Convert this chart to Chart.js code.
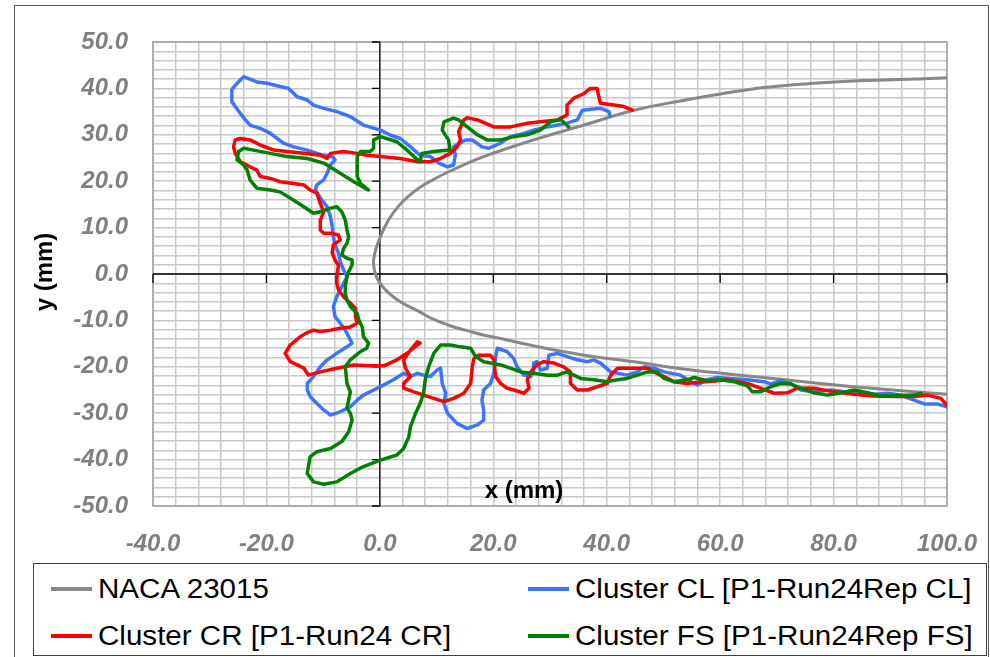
<!DOCTYPE html>
<html>
<head>
<meta charset="utf-8">
<script src="https://cdn.jsdelivr.net/npm/chart.js@4.4.1/dist/chart.umd.min.js"></script>
<style>
	body { margin: 0; background: #fff; }
	#wrap { position: relative; width: 990px; height: 657px; overflow: hidden; font-family: "Liberation Sans", Arial, sans-serif; }
	#frame { position: absolute; left: 14px; top: 5px; width: 973px; height: 700px; border: 1.5px solid #5a5a5a; }
	#myChart { position: absolute; left: 0; top: 0; }
	#legend { position: absolute; left: 33px; top: 563px; width: 954px; height: 93px; border: 1.5px solid #404040; box-sizing: border-box; background: #fff; }
	.item { position: absolute; height: 40px; white-space: nowrap; }
	.item .swatch { position: absolute; left: 0; top: 18px; width: 41px; height: 4px; }
	.item .label { position: absolute; left: 47px; top: 4px; font-size: 27px; line-height: 32px; color: #000; transform: scaleX(1.095); transform-origin: left center; }
</style>
</head>
<body>
<div id="wrap">
	<div id="frame"></div>
	<canvas id="myChart" width="990" height="657"></canvas>
	<div id="legend"></div>
</div>
<script>
// series names and colours
var seriesNames = ["NACA 23015", "Cluster CL [P1-Run24Rep CL]", "Cluster CR [P1-Run24 CR]", "Cluster FS [P1-Run24Rep FS]"];
var seriesColors = ["#888888", "#3d74ff", "#ff0000", "#008000"];

// tick labels
var xTickValues = [-40, -20, 0, 20, 40, 60, 80, 100];
var yTickValues = [-50, -40, -30, -20, -10, 0, 10, 20, 30, 40, 50];

// NACA 23015 profile (upper trailing side -> leading edge -> lower side)
var nacaX = [100.1, 94.2, 85.4, 76.5, 67.7, 60.1, 53.0, 44.8, 36.0, 27.1, 18.3, 12.4, 9.5, 7.1, 4.8, 3.0, 1.5, 0.3, -0.6, -1.1, -0.9, -0.1, 1.4, 3.6, 6.6, 9.5, 12.5, 15.4, 17.7, 21.3, 28.3, 36.0, 44.8, 52.4, 61.8, 70.7, 79.5, 88.3, 100.1];
var nacaY = [42.3, 42.0, 41.7, 41.1, 40.2, 38.8, 37.3, 35.3, 32.1, 28.9, 25.3, 22.2, 20.4, 18.7, 16.5, 14.2, 11.6, 8.6, 5.8, 3.0, 0.5, -1.8, -3.9, -6.0, -7.9, -9.8, -11.2, -12.2, -13.0, -13.9, -15.8, -17.5, -18.9, -20.3, -21.6, -22.7, -23.8, -24.8, -25.9];

// Cluster CL
var clX = [40.6, 40.4, 38.9, 35.7, 34.8, 33.0, 29.5, 27.1, 25.4, 23.0, 21.3, 19.2, 18.0, 16.3, 15.1, 13.0, 13.3, 13.0, 11.9, 10.4, 8.9, 7.1, 5.4, 3.6, 1.9, 0.1, -2.9, -5.2, -7.6, -9.9, -11.7, -12.8, -14.6, -16.1, -17.6, -19.9, -21.7, -23.4, -24.0, -24.6, -25.5, -26.1, -26.1, -25.5, -24.6, -23.7, -22.9, -21.1, -19.3, -18.1, -17.0, -15.2, -12.8, -11.1, -9.9, -8.4, -7.9, -8.7, -9.3, -9.9, -11.1, -11.4, -10.2, -9.3, -8.7, -8.4, -8.2, -7.9, -7.3, -7.0, -6.4, -5.8, -6.4, -7.0, -7.6, -8.2, -7.9, -7.0, -6.1, -5.5, -4.9, -5.8, -7.6, -9.3, -10.5, -11.7, -12.8, -12.8, -12.3, -11.1, -9.9, -8.7, -7.0, -5.2, -4.0, -2.9, -1.1, 0.7, 2.4, 4.2, 5.4, 6.6, 7.7, 8.9, 10.1, 10.7, 11.0, 11.6, 11.3, 11.9, 13.6, 15.4, 17.2, 18.3, 18.3, 18.0, 18.3, 19.5, 20.1, 20.4, 20.7, 22.4, 23.6, 24.2, 25.4, 26.6, 27.1, 27.1, 27.7, 28.3, 29.5, 29.8, 31.3, 33.0, 34.8, 36.6, 37.7, 38.9, 40.7, 43.6, 45.4, 46.6, 48.3, 50.1, 53.0, 54.8, 56.0, 57.7, 59.5, 61.8, 64.8, 67.7, 68.9, 70.7, 72.4, 74.2, 76.5, 79.5, 82.4, 85.4, 89.5, 91.8, 94.2, 96.0, 98.3, 100.1];
var clY = [34.1, 35.0, 35.7, 35.3, 33.2, 32.5, 31.7, 31.0, 30.3, 29.6, 28.2, 27.1, 27.4, 28.9, 28.9, 27.4, 25.6, 23.5, 23.1, 23.9, 25.3, 25.6, 27.4, 29.2, 29.9, 31.0, 32.1, 33.9, 35.0, 35.7, 36.4, 37.5, 38.2, 40.0, 40.4, 41.1, 41.4, 42.2, 42.5, 41.8, 40.7, 39.7, 37.1, 36.1, 34.6, 33.2, 32.1, 31.4, 30.3, 29.2, 28.2, 27.4, 26.7, 26.0, 25.6, 25.3, 24.6, 23.5, 21.7, 20.3, 19.2, 18.1, 15.9, 14.5, 12.3, 10.2, 8.0, 6.3, 4.5, 2.7, 0.9, -0.6, -2.0, -3.4, -4.9, -7.0, -9.2, -10.6, -12.1, -13.5, -14.9, -15.7, -17.1, -18.5, -20.0, -22.1, -23.6, -25.0, -26.4, -27.9, -29.3, -30.4, -29.7, -28.6, -27.2, -26.1, -25.0, -23.9, -22.8, -21.4, -22.1, -21.4, -21.8, -22.1, -20.7, -20.3, -23.6, -25.7, -27.9, -30.0, -32.2, -33.3, -32.5, -31.5, -29.3, -27.2, -25.0, -23.6, -21.4, -18.0, -16.0, -16.7, -18.2, -20.0, -21.8, -22.1, -21.1, -19.2, -18.9, -20.7, -20.3, -17.5, -17.1, -17.8, -18.5, -18.9, -18.5, -19.2, -21.1, -21.8, -21.1, -20.0, -20.3, -21.1, -21.8, -23.2, -23.9, -22.8, -22.3, -22.5, -22.8, -23.2, -23.7, -23.0, -23.6, -25.0, -25.4, -25.0, -25.5, -26.1, -25.7, -26.1, -27.2, -28.0, -28.0, -28.7];

// Cluster CR
var crX = [44.5, 43.0, 41.3, 38.9, 38.6, 38.3, 37.1, 36.0, 34.2, 33.0, 33.0, 31.3, 28.3, 26.0, 23.0, 20.1, 17.2, 15.4, 14.8, 13.9, 14.2, 13.6, 12.4, 10.7, 8.9, 6.6, 3.6, 0.1, -2.3, -4.0, -6.4, -8.7, -9.3, -10.5, -13.4, -16.4, -18.7, -21.1, -22.9, -24.6, -25.5, -25.8, -25.5, -24.6, -22.9, -21.7, -21.1, -19.3, -17.6, -15.2, -13.4, -12.3, -11.1, -10.5, -9.9, -10.5, -10.5, -9.9, -8.7, -7.3, -7.0, -8.2, -8.4, -7.9, -7.3, -7.6, -7.6, -7.3, -6.4, -5.2, -4.3, -4.3, -4.0, -5.2, -7.0, -8.7, -10.5, -11.7, -13.1, -14.0, -15.8, -16.7, -15.8, -13.4, -12.6, -10.5, -7.6, -4.6, -1.7, 0.7, 3.0, 4.8, 6.6, 7.1, 6.6, 5.4, 4.2, 4.5, 5.4, 4.2, 4.2, 6.0, 7.7, 9.5, 11.3, 13.0, 14.8, 16.0, 16.3, 16.6, 17.4, 19.5, 20.1, 20.4, 21.3, 22.4, 23.6, 25.4, 26.3, 26.0, 26.6, 27.7, 28.9, 30.7, 32.4, 33.6, 33.6, 34.8, 36.6, 38.3, 40.1, 40.7, 41.9, 44.8, 47.2, 48.3, 50.1, 51.8, 54.2, 56.6, 57.7, 61.3, 64.8, 67.1, 69.5, 71.9, 73.6, 76.5, 80.1, 83.6, 87.1, 90.7, 94.2, 96.6, 98.9, 100.1];
var crY = [35.3, 36.1, 36.4, 36.8, 38.2, 40.0, 40.0, 38.9, 37.9, 36.4, 34.3, 33.2, 32.8, 32.5, 31.7, 31.7, 33.2, 33.7, 33.2, 30.7, 28.9, 27.4, 26.0, 24.9, 24.2, 24.2, 24.9, 25.3, 25.6, 26.0, 26.4, 26.0, 24.9, 25.6, 26.0, 26.4, 26.7, 27.8, 28.9, 29.2, 28.9, 27.4, 26.0, 24.2, 23.1, 22.4, 21.0, 20.6, 19.9, 19.5, 19.2, 18.1, 17.4, 15.2, 13.4, 11.6, 9.5, 8.8, 8.8, 8.4, 7.3, 6.3, 4.5, 3.0, 1.9, -0.6, -2.0, -3.4, -4.9, -6.3, -7.4, -9.2, -10.6, -11.4, -11.7, -12.1, -12.4, -12.1, -12.8, -13.5, -15.3, -17.1, -18.9, -20.3, -21.8, -21.1, -20.3, -19.6, -19.8, -19.8, -18.5, -17.1, -15.3, -14.9, -14.6, -16.4, -18.5, -20.3, -22.1, -23.6, -24.6, -25.4, -26.1, -26.8, -27.5, -26.8, -25.7, -23.6, -20.0, -18.2, -17.5, -17.5, -18.5, -22.1, -23.6, -24.6, -25.0, -25.7, -24.6, -22.8, -21.1, -19.6, -18.9, -19.2, -20.0, -21.1, -23.6, -25.0, -25.0, -24.3, -23.6, -21.8, -20.3, -20.3, -20.3, -21.1, -22.1, -23.2, -23.6, -23.2, -23.2, -22.8, -23.6, -24.6, -25.7, -25.6, -24.6, -24.6, -25.4, -25.9, -26.3, -26.4, -26.4, -26.1, -26.8, -28.4];

// Cluster FS
var fsX = [33.3, 31.9, 30.1, 28.3, 26.0, 23.6, 21.3, 18.9, 17.2, 15.4, 13.9, 13.0, 11.3, 11.0, 12.1, 12.4, 9.5, 7.4, 7.1, 6.0, 4.8, 3.0, 0.1, -1.1, -1.1, -1.7, -3.4, -4.0, -4.0, -3.4, -2.0, -2.6, -4.6, -7.0, -9.9, -12.8, -16.4, -19.3, -22.3, -24.0, -24.9, -25.2, -24.0, -23.4, -22.9, -21.7, -19.3, -17.6, -15.2, -13.4, -11.7, -10.5, -8.7, -7.6, -6.7, -6.1, -5.8, -5.5, -5.8, -6.4, -6.7, -5.8, -4.9, -4.9, -5.5, -5.8, -6.1, -6.1, -5.8, -5.2, -4.0, -3.7, -3.1, -2.9, -2.0, -2.3, -3.4, -5.2, -6.1, -5.8, -5.2, -5.5, -5.8, -5.2, -4.9, -5.5, -6.7, -8.7, -11.1, -12.3, -12.6, -12.8, -11.7, -9.9, -7.6, -5.2, -2.9, 0.1, 3.0, 4.2, 5.1, 5.4, 6.3, 7.1, 7.7, 8.0, 8.6, 9.5, 10.7, 12.4, 14.2, 16.0, 16.9, 18.3, 19.5, 21.3, 23.0, 24.8, 27.1, 29.5, 31.3, 33.0, 34.2, 35.4, 37.7, 40.1, 41.9, 43.6, 45.4, 47.2, 48.9, 50.1, 51.8, 54.2, 55.4, 57.7, 60.1, 62.4, 64.8, 65.7, 67.1, 68.9, 70.7, 72.4, 74.2, 76.5, 78.9, 81.3, 83.6, 86.0, 88.3, 91.3, 94.2, 95.4];
var fsY = [31.7, 33.3, 32.8, 31.0, 30.0, 29.6, 28.9, 28.9, 30.0, 31.7, 33.2, 33.6, 32.8, 31.0, 28.9, 26.7, 26.4, 26.0, 24.2, 25.3, 26.7, 28.5, 29.6, 28.9, 27.1, 26.4, 26.4, 25.3, 21.0, 19.5, 18.1, 18.5, 19.9, 21.7, 23.9, 24.9, 25.3, 26.0, 26.7, 27.1, 26.4, 24.6, 23.5, 22.4, 20.3, 18.5, 18.1, 17.7, 15.9, 14.5, 13.1, 13.4, 14.2, 14.5, 13.4, 11.6, 9.5, 8.0, 6.6, 5.5, 4.1, 3.4, 3.0, 1.9, 0.5, -0.6, -2.7, -4.2, -5.6, -7.0, -8.5, -9.9, -11.4, -13.5, -14.9, -16.0, -16.7, -18.5, -20.0, -23.6, -25.4, -27.2, -28.9, -30.0, -31.5, -34.0, -36.1, -37.6, -38.3, -39.4, -41.5, -43.0, -44.8, -45.3, -44.8, -43.0, -41.5, -40.1, -39.0, -37.6, -35.1, -32.9, -30.0, -27.9, -25.7, -22.8, -20.0, -17.1, -15.3, -15.3, -15.7, -16.0, -17.8, -18.9, -19.2, -19.6, -20.3, -21.1, -21.4, -21.8, -21.8, -21.1, -21.8, -22.5, -22.8, -23.2, -22.8, -22.5, -21.8, -21.1, -21.1, -22.5, -23.2, -22.8, -22.3, -23.0, -22.8, -23.2, -24.1, -25.4, -25.4, -24.3, -23.6, -23.7, -24.6, -25.6, -26.1, -25.6, -25.0, -25.6, -26.3, -26.2, -26.1, -25.7];

function toPoints(xs, ys) {
	return xs.map(function(x, i) { return { x: x, y: ys[i] }; });
}

var tickFont = { family: "'Liberation Sans', Arial, sans-serif", size: 24, weight: 'bold', style: 'italic' };

// axis lines through 0, frame, tick marks and axis titles
var axesPlugin = {
	id: 'axesPlugin',
	beforeDatasetsDraw: function(chart) {
		var ctx = chart.ctx;
		var a = chart.chartArea;
		var xs = chart.scales.x;
		var ys = chart.scales.y;
		var x0 = xs.getPixelForValue(0);
		var y0 = ys.getPixelForValue(0);
		ctx.save();
		ctx.strokeStyle = '#a0a0a0';
		ctx.lineWidth = 1.5;
		ctx.strokeRect(a.left, a.top, a.right - a.left, a.bottom - a.top);
		ctx.strokeStyle = '#000';
		ctx.lineWidth = 1.3;
		ctx.beginPath();
		ctx.moveTo(a.left, y0); ctx.lineTo(a.right, y0);
		ctx.moveTo(x0, a.top); ctx.lineTo(x0, a.bottom);
		xTickValues.forEach(function(v) {
			var p = xs.getPixelForValue(v);
			ctx.moveTo(p, y0); ctx.lineTo(p, y0 + 9);
		});
		yTickValues.forEach(function(v) {
			var p = ys.getPixelForValue(v);
			ctx.moveTo(x0 - 8, p); ctx.lineTo(x0, p);
		});
		ctx.stroke();
		ctx.restore();
	},
	afterDatasetsDraw: function(chart) {
		var ctx = chart.ctx;
		ctx.save();
		ctx.fillStyle = '#000';
		ctx.font = "bold 24px 'Liberation Sans', Arial, sans-serif";
		ctx.textAlign = 'center';
		ctx.textBaseline = 'middle';
		ctx.fillText('x (mm)', 524, 491);
		ctx.translate(45, 272);
		ctx.rotate(-Math.PI / 2);
		ctx.fillText('y (mm)', 0, 0);
		ctx.restore();
	}
};

var ctx = document.getElementById('myChart').getContext('2d');
var chart = new Chart(ctx, {
	type: 'scatter',
	data: {
		datasets: [
			{ label: seriesNames[0], data: toPoints(nacaX, nacaY), borderColor: seriesColors[0], borderWidth: 3, tension: 0.4, order: 4 },
			{ label: seriesNames[1], data: toPoints(clX, clY), borderColor: seriesColors[1], order: 3 },
			{ label: seriesNames[2], data: toPoints(crX, crY), borderColor: seriesColors[2], order: 2 },
			{ label: seriesNames[3], data: toPoints(fsX, fsY), borderColor: seriesColors[3], order: 1 }
		]
	},
	options: {
		responsive: false,
		animation: false,
		devicePixelRatio: 1,
		showLine: true,
		elements: {
			point: { radius: 0, hoverRadius: 0 },
			line: { borderWidth: 3.5, tension: 0, borderJoinStyle: 'round', borderCapStyle: 'round', fill: false }
		},
		layout: { padding: { left: 0, right: 43, top: 42, bottom: 0 } },
		plugins: { legend: { display: false }, tooltip: { enabled: false } },
		scales: {
			x: {
				type: 'linear', min: -40, max: 100,
				afterFit: function(scale) {
					scale.height = 151;
					scale.paddingLeft = 0;
					scale.paddingRight = 0;
				},
				grid: { color: '#c8c8c8', lineWidth: 1.5, drawTicks: false },
				border: { display: false },
				ticks: {
					stepSize: 4, maxTicksLimit: 100, autoSkip: false, maxRotation: 0, minRotation: 0,
					padding: 24, color: '#808080', font: tickFont,
					callback: function(v) { return xTickValues.indexOf(Math.round(v)) >= 0 ? Math.round(v).toFixed(1) : ''; }
				}
			},
			y: {
				type: 'linear', min: -50, max: 50,
				afterFit: function(scale) {
					scale.width = 153;
					scale.paddingTop = 0;
					scale.paddingBottom = 0;
				},
				grid: { color: '#c8c8c8', lineWidth: 1.5, drawTicks: false },
				border: { display: false },
				ticks: {
					stepSize: 2, maxTicksLimit: 100, autoSkip: false,
					padding: 25, color: '#808080', font: tickFont,
					callback: function(v) { return yTickValues.indexOf(Math.round(v)) >= 0 ? Math.round(v).toFixed(1) : ''; }
				}
			}
		}
	},
	plugins: [axesPlugin]
});

// legend in two columns
var legendPos = [[17, 5], [494, 5], [17, 52], [494, 52]];
var legend = document.getElementById('legend');
seriesNames.forEach(function(name, i) {
	var item = document.createElement('div');
	item.className = 'item';
	item.style.left = legendPos[i][0] + 'px';
	item.style.top = legendPos[i][1] + 'px';
	item.innerHTML = '<div class="swatch" style="background:' + seriesColors[i] + '"></div><div class="label">' + name + '</div>';
	legend.appendChild(item);
});
</script>
</body>
</html>
